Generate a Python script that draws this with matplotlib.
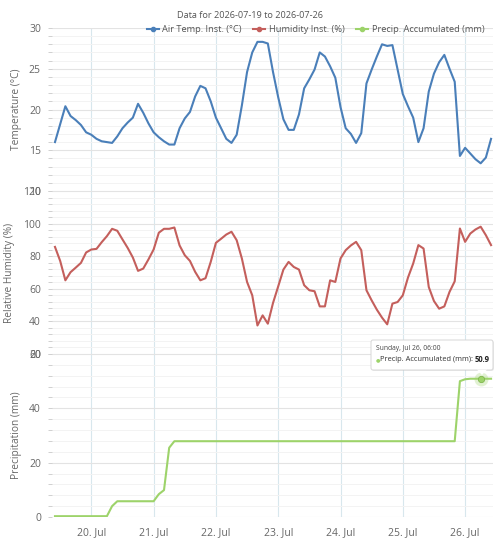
import numpy as np
import pandas as pd
import matplotlib
matplotlib.use("Agg")
import matplotlib.pyplot as plt
import matplotlib.dates as mdates
from matplotlib.ticker import MultipleLocator, FuncFormatter
from matplotlib.patches import FancyBboxPatch, Polygon
from matplotlib.lines import Line2D

plt.rcParams['font.family'] = ['Open Sans', 'DejaVu Sans']

# 2-hourly readings, 2026-07-19 10:00 -> 2026-07-26 10:00
START = "2026-07-19 10:00"
temp = [16.0, 18.2, 20.4, 19.2, 18.7, 18.1, 17.2, 16.9, 16.4, 16.1,
        16.0, 15.9, 16.7, 17.7, 18.4, 19.0, 20.7, 19.6, 18.3, 17.2,
        16.6, 16.1, 15.7, 15.7, 17.7, 18.9, 19.7, 21.6, 22.9, 22.6,
        21.0, 19.0, 17.7, 16.4, 15.9, 16.9, 20.5, 24.6, 27.0, 28.3,
        28.3, 28.1, 24.6, 21.5, 18.8, 17.5, 17.5, 19.4, 22.6, 23.7,
        24.9, 27.0, 26.5, 25.3, 23.9, 20.3, 17.7, 17.0, 15.9, 17.1,
        23.2, 24.9, 26.5, 28.0, 27.8, 27.9, 24.9, 21.9, 20.4, 19.0,
        16.0, 17.7, 22.2, 24.4, 25.8, 26.7, 25.0, 23.4, 14.3, 15.3,
        14.6, 13.9, 13.4, 14.1, 16.4]
hum = [85.7, 77.1, 65.2, 70.2, 73.0, 75.9, 82.3, 84.1, 84.5, 88.6,
       92.3, 96.8, 95.6, 90.3, 85.1, 79.2, 71.0, 72.4, 78.0, 84.1,
       94.4, 96.8, 96.8, 97.6, 86.6, 80.6, 77.1, 70.4, 65.2, 66.5,
       76.5, 88.2, 90.7, 93.3, 95.0, 89.8, 78.6, 64.2, 56.0, 37.5,
       43.7, 38.6, 51.3, 61.5, 71.8, 76.5, 73.4, 71.8, 62.2, 59.1,
       58.5, 49.2, 49.2, 65.2, 64.2, 78.6, 83.7, 86.6, 88.8, 83.7,
       59.1, 52.9, 47.2, 42.3, 38.2, 50.9, 51.9, 56.0, 66.9, 75.5,
       86.8, 84.7, 61.1, 52.5, 47.8, 49.2, 58.1, 64.6, 97.0, 88.8,
       93.9, 96.4, 98.1, 92.9, 86.8]
precip = [0.3, 0.3, 0.3, 0.3, 0.3, 0.3, 0.3, 0.3, 0.3, 0.3,
          0.3, 4.0, 5.8, 5.8, 5.8, 5.8, 5.8, 5.8, 5.8, 5.8,
          8.4, 9.9, 25.5, 27.9, 27.9, 27.9, 27.9, 27.9, 27.9, 27.9,
          27.9, 27.9, 27.9, 27.9, 27.9, 27.9, 27.9, 27.9, 27.9, 27.9,
          27.9, 27.9, 27.9, 27.9, 27.9, 27.9, 27.9, 27.9, 27.9, 27.9,
          27.9, 27.9, 27.9, 27.9, 27.9, 27.9, 27.9, 27.9, 27.9, 27.9,
          27.9, 27.9, 27.9, 27.9, 27.9, 27.9, 27.9, 27.9, 27.9, 27.9,
          27.9, 27.9, 27.9, 27.9, 27.9, 27.9, 27.9, 27.9, 50.0, 50.7,
          50.9, 50.9, 50.9, 50.9, 50.9]
TOOLTIP_IDX = 82   # Sunday, Jul 26, 06:00

times = pd.date_range(START, periods=len(temp), freq="2h")

C_TEMP = "#4a7fb9"
C_HUM = "#c45f5c"
C_PREC = "#9dd36a"
TXT = "#666666"

W, H = 500, 549
fig = plt.figure(figsize=(W / 100, H / 100), dpi=100)


def fx(x):
    return x / W


def fy(y):
    return 1 - y / H


left, right = 52, 493
panels = [(28, 191), (191, 354), (354, 517)]
axs = [fig.add_axes([fx(left), fy(b), fx(right) - fx(left), (b - t) / H]) for t, b in panels]

xmin = pd.Timestamp("2026-07-19 08:51")
xmax = pd.Timestamp("2026-07-26 10:45")

specs = [
    (temp, C_TEMP, (10, 30), 5, 1, "Temperature (°C)", 22),
    (hum, C_HUM, (20, 120), 20, 4, "Relative Humidity (%)", 15),
    (precip, C_PREC, (0, 60), 20, 4, "Precipitation (mm)", 22),
]

for ax, (vals, col, ylim, maj, mnr, lab, labx) in zip(axs, specs):
    ax.plot(times, vals, color=col, lw=1.5, zorder=3, solid_joinstyle="round")
    ax.set_xlim(xmin, xmax)
    ax.set_ylim(*ylim)
    ax.yaxis.set_major_locator(MultipleLocator(maj))
    ax.yaxis.set_minor_locator(MultipleLocator(mnr))
    ax.xaxis.set_major_locator(mdates.DayLocator())
    ax.grid(which="major", axis="y", color="#e3e3e3", lw=0.8, zorder=0)
    ax.grid(which="minor", axis="y", color="#f3f3f3", lw=0.7, zorder=0)
    ax.grid(which="major", axis="x", color="#d8e7ed", lw=0.8, zorder=0)
    for s in ax.spines.values():
        s.set_visible(False)
    ax.tick_params(axis="y", which="both", length=3, width=0.7, color="#d0d0d0",
                   labelsize=7.5, labelcolor=TXT, pad=5)
    ax.tick_params(axis="x", which="both", length=0, labelsize=7.5, labelcolor=TXT, pad=7)
    ax.set_ylabel(lab, fontsize=7.3, color=TXT)
    ax.yaxis.set_label_coords((labx - left) / (right - left), 0.5)
    ax.patch.set_alpha(0)

for ax in axs[:2]:
    ax.tick_params(axis="x", labelbottom=False)
axs[2].xaxis.set_major_formatter(
    FuncFormatter(lambda v, p: f"{mdates.num2date(v).day}. {mdates.num2date(v).strftime('%b')}"))

fig.text(0.5, fy(16), "Data for 2026-07-19 to 2026-07-26", ha="center", va="center",
         fontsize=6.6, color="#555555")

handles = [Line2D([], [], color=c, lw=1.5, marker="o", ms=3.0) for c in (C_TEMP, C_HUM, C_PREC)]
fig.legend(handles, ["Air Temp. Inst. (°C)", "Humidity Inst. (%)", "Precip. Accumulated (mm)"],
           loc="center right", bbox_to_anchor=(fx(489), fy(30)), ncol=3, frameon=False,
           fontsize=6.7, labelcolor="#555555", handlelength=1.3, handletextpad=0.4,
           columnspacing=1.2, borderpad=0)

# hovered point + tooltip
ax3 = axs[2]
ax3.plot(times[TOOLTIP_IDX], precip[TOOLTIP_IDX], "o", ms=10, color=C_PREC, alpha=0.3,
         mec="none", zorder=4, clip_on=False)
ax3.plot(times[TOOLTIP_IDX], precip[TOOLTIP_IDX], "o", ms=4.5, color=C_PREC,
         mec="#7fb54e", mew=0.6, zorder=5, clip_on=False)

shadow = FancyBboxPatch((fx(372), fy(371)), fx(122), 30 / H, boxstyle="round,pad=0,rounding_size=0.004",
                        transform=fig.transFigure, facecolor="#000000", alpha=0.07,
                        edgecolor="none", zorder=9)
box = FancyBboxPatch((fx(371), fy(370)), fx(122), 30 / H, boxstyle="round,pad=0,rounding_size=0.004",
                     transform=fig.transFigure, facecolor="white", edgecolor="#d6d6d6",
                     lw=0.7, zorder=10)
tip = Polygon([(fx(477), fy(369.6)), (fx(487), fy(369.6)), (fx(482), fy(375))], closed=True,
              transform=fig.transFigure, facecolor="white", edgecolor="none", zorder=11)
for p in (shadow, box, tip):
    fig.add_artist(p)

fig.text(fx(376), fy(348.5), "Sunday, Jul 26, 06:00", fontsize=4.9, color="#444444",
         va="center", zorder=12)
fig.text(fx(375.5), fy(359.5), "●", fontsize=3.8, color=C_PREC, va="center", zorder=12)
t1 = fig.text(fx(379.5), fy(359.5), "Precip. Accumulated (mm):", fontsize=5.4, color="#333333",
              va="center", zorder=12)
fig.canvas.draw()
bb = t1.get_window_extent(renderer=fig.canvas.get_renderer())
fig.text(bb.x1 / W + fx(2.0), fy(359.5), f"{precip[TOOLTIP_IDX]:.1f}", fontsize=5.5, color="#222222",
         fontweight="bold", va="center", zorder=12)

fig.savefig("out.png", dpi=100)
